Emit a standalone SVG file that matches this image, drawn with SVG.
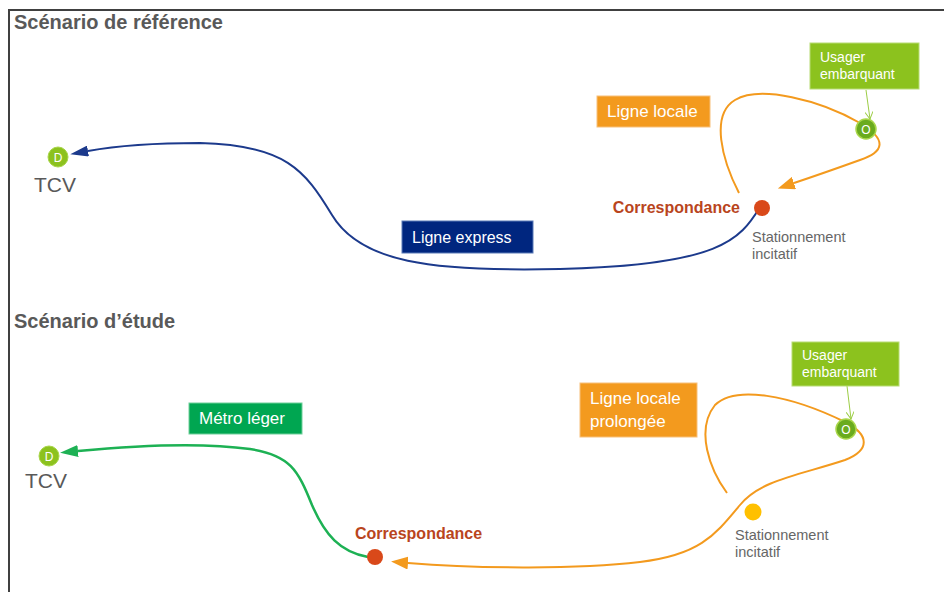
<svg xmlns="http://www.w3.org/2000/svg" width="944" height="592" viewBox="0 0 944 592">
<defs>
<style>
text{font-family:"Liberation Sans",Arial,sans-serif}
.title{font-size:20px;font-weight:bold;fill:#595959}
.tcv{font-size:21px;fill:#595959}
.lbl{fill:#fff;font-size:17px}
.small{fill:#fff;font-size:14px}
.corr{font-size:16px;font-weight:bold;fill:#b9451d}
.stat{font-size:14.5px;fill:#666}
.nodeD{fill:#8cc21e;stroke:#a9d64a;stroke-width:1}
.nodeO{fill:#6aab1e;stroke:#a9d64a;stroke-width:1.5}
.nl{fill:#fff;font-size:12px;text-anchor:middle}
.blue{fill:none;stroke:#1c3a8c;stroke-width:2}
.orange{fill:none;stroke:#f39a1e;stroke-width:2}
.green{fill:none;stroke:#1db154;stroke-width:2.5}
.thin{fill:none;stroke:#9ccd45;stroke-width:1}
</style>
<marker id="ab" viewBox="0 0 18 11" refX="0" refY="5.5" markerWidth="18" markerHeight="11" markerUnits="userSpaceOnUse" orient="auto-start-reverse"><path d="M0,0 L18,5.5 L0,11z" fill="#1c3a8c"/></marker>
<marker id="ao" viewBox="0 0 17 13" refX="0" refY="6.5" markerWidth="17" markerHeight="13" markerUnits="userSpaceOnUse" orient="auto-start-reverse"><path d="M0,0 L17,6.5 L0,13z" fill="#f39a1e"/></marker>
<marker id="ag" viewBox="0 0 18 12" refX="0" refY="6" markerWidth="18" markerHeight="12" markerUnits="userSpaceOnUse" orient="auto-start-reverse"><path d="M0,0 L18,6 L0,12z" fill="#1db154"/></marker>
<marker id="at" viewBox="0 0 10 10" refX="9" refY="5" markerWidth="8" markerHeight="8" markerUnits="userSpaceOnUse" orient="auto"><path d="M0,0 L9,5 L0,10" fill="none" stroke="#9ccd45" stroke-width="1.2"/></marker>
</defs>
<rect width="944" height="592" fill="#fff"/>
<path d="M9,592 L9,10 L944,10" fill="none" stroke="#404040" stroke-width="2"/>

<text class="title" x="14" y="29">Scénario de référence</text>
<text class="title" x="14" y="328">Scénario d’étude</text>

<g id="connectors">
<path class="blue" marker-start="url(#ab)" d="M88,151 C110,147 150,143 200,143 C285,145 305,170 332,215 C360,262 430,272 560,269 C720,265 740,240 760,207"/>
<path class="orange" marker-end="url(#ao)" d="M739,193 C722,160 710,115 735,100 C760,85 820,100 860,123 C888,140 884,152 860,160 C835,169 815,176 794,183"/>
<path class="thin" marker-end="url(#at)" d="M866,90 L870,119"/>
<path class="green" marker-start="url(#ag)" d="M78,451 C130,446 200,442 250,449 C290,455 298,470 312,505 C325,535 340,552 368,557"/>
<path class="orange" marker-end="url(#ao)" d="M727,493 C710,470 695,430 715,405 C735,385 790,395 845,422 C870,435 870,450 845,460 C800,475 760,480 740,505 C715,535 700,555 640,562 C580,569 480,569 408,563"/>
<path class="thin" marker-end="url(#at)" d="M847,386 L851,419"/>
</g>

<g id="tcv1">
<circle class="nodeD" cx="58" cy="157" r="10"/>
<text class="nl" x="58" y="161.5">D</text>
<text class="tcv" x="34" y="192">TCV</text>
</g>
<g id="express">
<rect x="402" y="221" width="131" height="32" fill="#00267f" stroke="#5a7ab8" stroke-width="1"/>
<text class="lbl" x="412" y="243" style="font-size:16px">Ligne express</text>
</g>
<g id="corr1">
<circle cx="762" cy="208" r="8" fill="#d9491a"/>
<text class="corr" x="740" y="213" text-anchor="end">Correspondance</text>
<text class="stat" x="752" y="242">Stationnement</text>
<text class="stat" x="752" y="259">incitatif</text>
</g>
<g id="locale1">
<rect x="597" y="96" width="113" height="31" fill="#f39a1e" stroke="#f7c07a" stroke-width="1"/>
<text class="lbl" x="607" y="117">Ligne locale</text>
</g>
<g id="usager1">
<rect x="810" y="43" width="109" height="46" fill="#8cc21e" stroke="#b7dc74" stroke-width="1"/>
<text class="small" x="820" y="62">Usager</text>
<text class="small" x="820" y="79">embarquant</text>
</g>
<g id="o1">
<circle class="nodeO" cx="866" cy="129" r="10"/>
<text class="nl" x="866" y="133.5">O</text>
</g>

<g id="tcv2">
<circle class="nodeD" cx="49" cy="456" r="10"/>
<text class="nl" x="49" y="460.5">D</text>
<text class="tcv" x="25" y="488">TCV</text>
</g>
<g id="metro">
<rect x="189" y="403" width="113" height="31" fill="#00a651" stroke="#6fcf9a" stroke-width="1"/>
<text class="lbl" x="199" y="424">Métro léger</text>
</g>
<g id="corr2">
<circle cx="375" cy="557" r="8" fill="#d9491a"/>
<text class="corr" x="355" y="539">Correspondance</text>
</g>
<g id="stat2">
<circle cx="753" cy="512" r="8.5" fill="#ffc000"/>
<text class="stat" x="735" y="540">Stationnement</text>
<text class="stat" x="735" y="557">incitatif</text>
</g>
<g id="locale2">
<rect x="580" y="383" width="117" height="54" fill="#f39a1e" stroke="#f7c07a" stroke-width="1"/>
<text class="lbl" x="590" y="404">Ligne locale</text>
<text class="lbl" x="590" y="427">prolongée</text>
</g>
<g id="usager2">
<rect x="792" y="342" width="107" height="44" fill="#8cc21e" stroke="#b7dc74" stroke-width="1"/>
<text class="small" x="802" y="360">Usager</text>
<text class="small" x="802" y="377">embarquant</text>
</g>
<g id="o2">
<circle class="nodeO" cx="846" cy="429" r="10"/>
<text class="nl" x="846" y="433.5">O</text>
</g>
</svg>
